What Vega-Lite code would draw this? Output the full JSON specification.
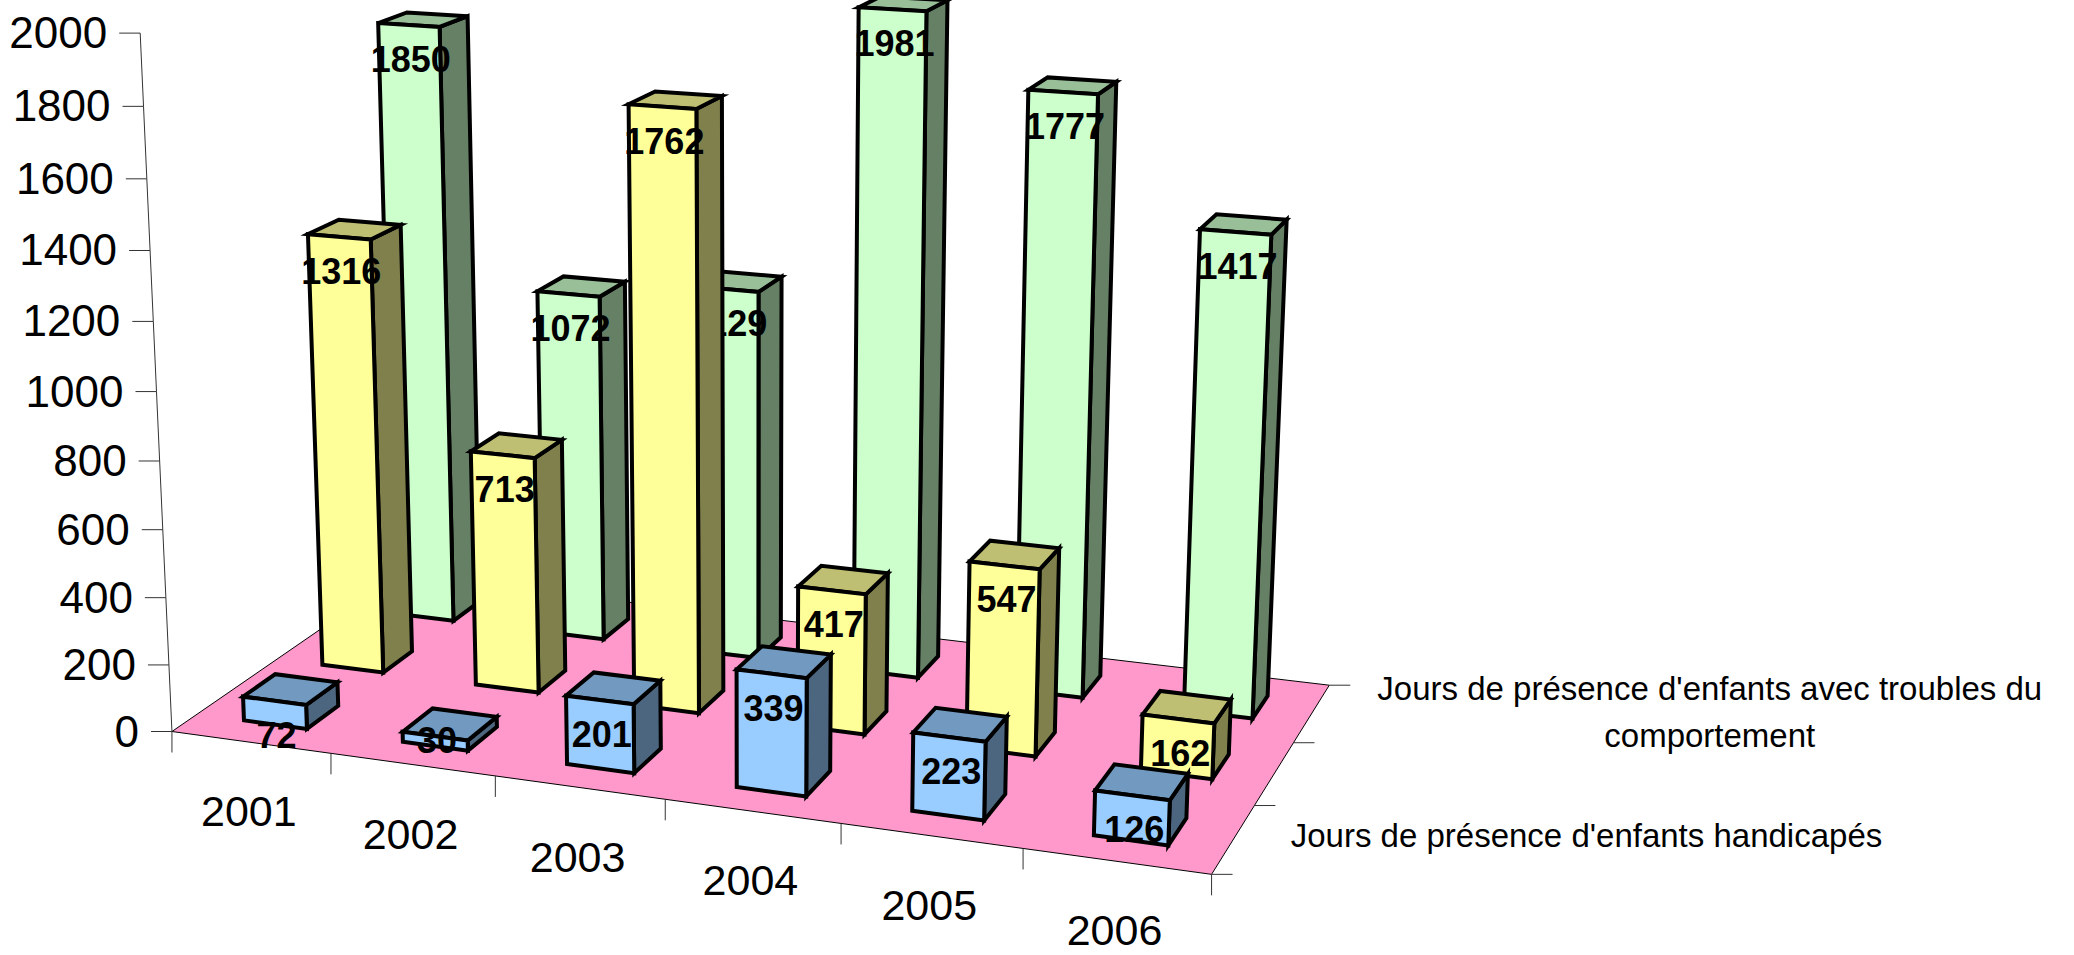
{"$schema":"https://vega.github.io/schema/vega-lite/v6.json","width":2074,"height":955,"padding":0,"autosize":{"type":"none"},"background":"white","config":{"view":{"stroke":null},"axis":{"disable":true}},
"data":{"values":[
{"year":2001,"series":"Jours de présence d'enfants handicapés","value":72},{"year":2002,"series":"Jours de présence d'enfants handicapés","value":30},{"year":2003,"series":"Jours de présence d'enfants handicapés","value":201},{"year":2004,"series":"Jours de présence d'enfants handicapés","value":339},{"year":2005,"series":"Jours de présence d'enfants handicapés","value":223},{"year":2006,"series":"Jours de présence d'enfants handicapés","value":126},
{"year":2001,"series":"Jours de présence d'enfants","value":1316},{"year":2002,"series":"Jours de présence d'enfants","value":713},{"year":2003,"series":"Jours de présence d'enfants","value":1762},{"year":2004,"series":"Jours de présence d'enfants","value":417},{"year":2005,"series":"Jours de présence d'enfants","value":547},{"year":2006,"series":"Jours de présence d'enfants","value":162},
{"year":2001,"series":"Jours de présence d'enfants avec troubles du comportement","value":1850},{"year":2002,"series":"Jours de présence d'enfants avec troubles du comportement","value":1072},{"year":2003,"series":"Jours de présence d'enfants avec troubles du comportement","value":1129},{"year":2004,"series":"Jours de présence d'enfants avec troubles du comportement","value":1981},{"year":2005,"series":"Jours de présence d'enfants avec troubles du comportement","value":1777},{"year":2006,"series":"Jours de présence d'enfants avec troubles du comportement","value":1417}
]},
"transform":[
{"calculate":"datum.year-2001","as":"i"},
{"calculate":"indexof([\"Jours de présence d'enfants handicapés\",\"Jours de présence d'enfants\",\"Jours de présence d'enfants avec troubles du comportement\"],datum.series)","as":"j"},
{"calculate":"''+datum.value","as":"txt"},
{"calculate":"1-0.097*(datum.i+0.5)/6+0.13*(datum.j+0.3)/3-0.0517*datum.value/2000","as":"Ld"},
{"calculate":"(171.95+922.1*(datum.i+0.5)/6+279.1*(datum.j+0.3)/3-39*datum.value/2000)/datum.Ld+2","as":"Lx"},
{"calculate":"(731.5+58.04*(datum.i+0.5)/6-81.73*(datum.j+0.3)/3-700.1*datum.value/2000)/datum.Ld+(datum.value<50?6:36)","as":"Ly"},
{"calculate":"['side','top','front']","as":"face"},{"flatten":["face"]},
{"calculate":"[0,1,2,3]","as":"vertex"},{"flatten":["vertex"]},
{"calculate":"datum.face=='side'||((datum.vertex==1||datum.vertex==2))?datum.i+0.7:datum.i+0.3","as":"U"},
{"calculate":"datum.face=='front'?datum.j+0.3:datum.face=='side'?((datum.vertex==1||datum.vertex==2)?datum.j+0.7:datum.j+0.3):(datum.vertex>=2?datum.j+0.7:datum.j+0.3)","as":"V"},
{"calculate":"datum.face=='top'||datum.vertex>=2?datum.value:0","as":"W"},
{"calculate":"1-0.097*datum.U/6+0.13*datum.V/3-0.0517*datum.W/2000","as":"den"},
{"calculate":"(171.95+922.1*datum.U/6+279.1*datum.V/3-39*datum.W/2000)/datum.den","as":"X"},
{"calculate":"(731.5+58.04*datum.U/6-81.73*datum.V/3-700.1*datum.W/2000)/datum.den","as":"Y"},
{"calculate":"datum.j+datum.face","as":"key"},
{"calculate":"datum.i+'-'+datum.j+'-'+datum.face","as":"gid"}
],
"encoding":{"x":{"field":"X","type":"quantitative","scale":{"domain":[0,2074],"nice":false,"zero":false},"axis":null},"y":{"field":"Y","type":"quantitative","scale":{"domain":[955,0],"nice":false,"zero":false},"axis":null}},
"layer":[
{"data":{"values":[{"U":0,"V":0,"n":0},{"U":6,"V":0,"n":1},{"U":6,"V":3,"n":2},{"U":0,"V":3,"n":3}]},
"transform":[{"calculate":"1-0.097*datum.U/6+0.13*datum.V/3","as":"den"},{"calculate":"(171.95+922.1*datum.U/6+279.1*datum.V/3)/datum.den","as":"X"},{"calculate":"(731.5+58.04*datum.U/6-81.73*datum.V/3)/datum.den","as":"Y"}],
"mark":{"type":"line","interpolate":"linear-closed","fill":"#FF99CC","stroke":"#000000","strokeWidth":1},"encoding":{"order":{"field":"n","type":"quantitative"}}},
{"data":{"name":"valueAxis","values":[{"tick":0},{"tick":200},{"tick":400},{"tick":600},{"tick":800},{"tick":1000},{"tick":1200},{"tick":1400},{"tick":1600},{"tick":1800},{"tick":2000}]},
"transform":[{"calculate":"1-0.0517*datum.tick/2000","as":"den"},{"calculate":"(171.95-39*datum.tick/2000)/datum.den","as":"X"},{"calculate":"(731.5-700.1*datum.tick/2000)/datum.den","as":"Y"},{"calculate":"datum.Y+2","as":"YL"},{"calculate":"datum.X-21","as":"X2"},{"calculate":"datum.X-33","as":"XL"},{"calculate":"''+datum.tick","as":"txt"}],
"layer":[
{"mark":{"type":"line","stroke":"#333333","strokeWidth":1},"encoding":{"order":{"field":"tick","type":"quantitative"}}},
{"mark":{"type":"rule","stroke":"#333333","strokeWidth":1},"encoding":{"x2":{"field":"X2"}}},
{"mark":{"type":"text","align":"right","baseline":"middle","font":"Liberation Sans","fontSize":44,"fill":"#000000"},"encoding":{"x":{"field":"XL","type":"quantitative"},"y":{"field":"YL","type":"quantitative"},"text":{"field":"txt"}}}
]},
{"data":{"values":[{"U":0},{"U":1},{"U":2},{"U":3},{"U":4},{"U":5},{"U":6}]},
"transform":[{"calculate":"1-0.097*datum.U/6","as":"den"},{"calculate":"(171.95+922.1*datum.U/6)/datum.den","as":"X"},{"calculate":"(731.5+58.04*datum.U/6)/datum.den","as":"Y"},{"calculate":"datum.Y+21","as":"Y2"}],
"mark":{"type":"rule","stroke":"#333333","strokeWidth":1},"encoding":{"y2":{"field":"Y2"}}},
{"data":{"values":[{"V":0},{"V":1},{"V":2},{"V":3}]},
"transform":[{"calculate":"1-0.097+0.13*datum.V/3","as":"den"},{"calculate":"(171.95+922.1+279.1*datum.V/3)/datum.den","as":"X"},{"calculate":"(731.5+58.04-81.73*datum.V/3)/datum.den","as":"Y"},{"calculate":"datum.X+21","as":"X2"}],
"mark":{"type":"rule","stroke":"#333333","strokeWidth":1},"encoding":{"x2":{"field":"X2"}}},
{"transform":[{"filter":"datum.j==2"}],"mark":{"type":"line","interpolate":"linear-closed","stroke":"#000000","strokeWidth":4,"strokeJoin":"miter"},"encoding":{"fill":{"field":"key","type":"nominal","legend":null,"scale":{"domain":["2front","2top","2side","1front","1top","1side","0front","0top","0side"],"range":["#CCFFCC","#99BF99","#668066","#FFFF99","#BFBF73","#80804D","#99CCFF","#7299BF","#4D6680"]}},"detail":{"field":"gid"},"order":{"field":"vertex","type":"quantitative"}}},
{"transform":[{"filter":"datum.j==2&&datum.face=='front'&&datum.vertex==0"}],"mark":{"type":"text","align":"center","baseline":"middle","font":"Liberation Sans","fontWeight":"bold","fontSize":36,"fill":"#000000"},"encoding":{"x":{"field":"Lx","type":"quantitative"},"y":{"field":"Ly","type":"quantitative"},"text":{"field":"txt"}}},
{"transform":[{"filter":"datum.j==1"}],"mark":{"type":"line","interpolate":"linear-closed","stroke":"#000000","strokeWidth":4,"strokeJoin":"miter"},"encoding":{"fill":{"field":"key","type":"nominal","legend":null},"detail":{"field":"gid"},"order":{"field":"vertex","type":"quantitative"}}},
{"transform":[{"filter":"datum.j==1&&datum.face=='front'&&datum.vertex==0"}],"mark":{"type":"text","align":"center","baseline":"middle","font":"Liberation Sans","fontWeight":"bold","fontSize":36,"fill":"#000000"},"encoding":{"x":{"field":"Lx","type":"quantitative"},"y":{"field":"Ly","type":"quantitative"},"text":{"field":"txt"}}},
{"transform":[{"filter":"datum.j==0"}],"mark":{"type":"line","interpolate":"linear-closed","stroke":"#000000","strokeWidth":4,"strokeJoin":"miter"},"encoding":{"fill":{"field":"key","type":"nominal","legend":null},"detail":{"field":"gid"},"order":{"field":"vertex","type":"quantitative"}}},
{"transform":[{"filter":"datum.j==0&&datum.face=='front'&&datum.vertex==0"}],"mark":{"type":"text","align":"center","baseline":"middle","font":"Liberation Sans","fontWeight":"bold","fontSize":36,"fill":"#000000"},"encoding":{"x":{"field":"Lx","type":"quantitative"},"y":{"field":"Ly","type":"quantitative"},"text":{"field":"txt"}}},
{"data":{"values":[{"year":2001},{"year":2002},{"year":2003},{"year":2004},{"year":2005},{"year":2006}]},
"transform":[{"calculate":"datum.year-2000.5","as":"U"},{"calculate":"1-0.097*datum.U/6","as":"den"},{"calculate":"(171.95+922.1*datum.U/6)/datum.den-2","as":"X"},{"calculate":"(731.5+58.04*datum.U/6)/datum.den+71","as":"Y"},{"calculate":"''+datum.year","as":"txt"}],
"mark":{"type":"text","align":"center","baseline":"middle","font":"Liberation Sans","fontSize":43,"fill":"#000000"},"encoding":{"text":{"field":"txt"}}},
{"data":{"values":[{"series":"Jours de présence d'enfants handicapés","V":0.5},{"series":"Jours de présence d'enfants avec troubles du|comportement","V":2.5}]},
"transform":[{"calculate":"1-0.097+0.13*datum.V/3","as":"den"},{"calculate":"(171.95+922.1+279.1*datum.V/3)/datum.den+(datum.V<1?353:398)","as":"X"},{"calculate":"(731.5+58.04-81.73*datum.V/3)/datum.den+(datum.V<1?-2:-23)","as":"Y"}],
"mark":{"type":"text","align":"center","baseline":"middle","font":"Liberation Sans","fontSize":33,"lineBreak":"|","lineHeight":47,"fill":"#000000"},"encoding":{"text":{"field":"series"}}}
]}
